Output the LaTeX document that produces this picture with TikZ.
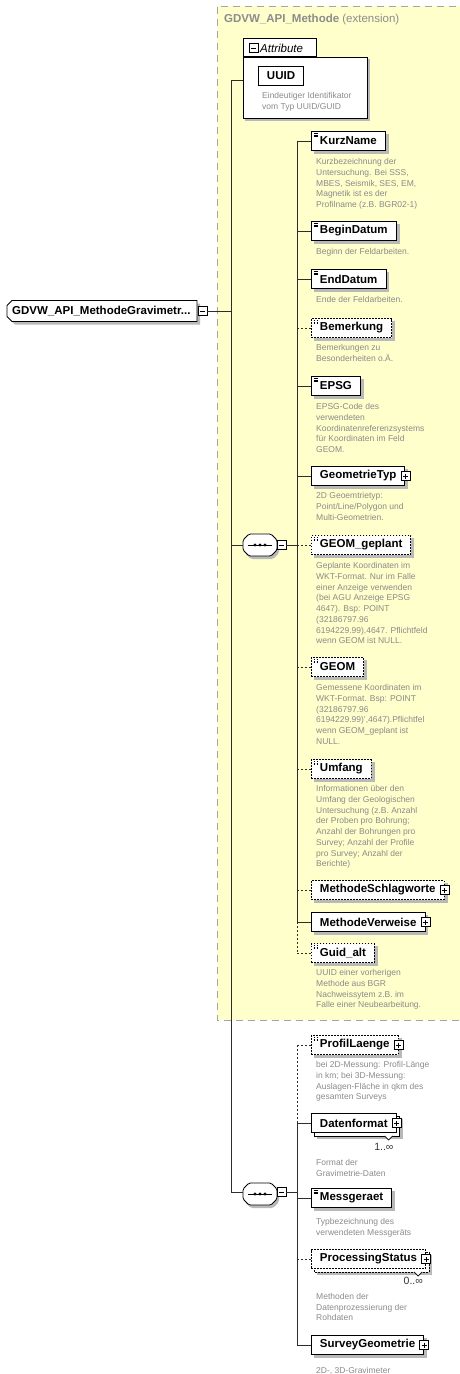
\documentclass[tikz,border=0pt]{standalone}
\usepackage{fontspec}
\setmainfont{Liberation Sans}
\definecolor{extyellow}{RGB}{255,255,204}
\definecolor{extborder}{RGB}{165,165,165}
\definecolor{descgray}{RGB}{138,138,138}
\definecolor{titlegray}{RGB}{140,140,140}
\definecolor{shadowgray}{RGB}{185,185,185}
\definecolor{linecol}{RGB}{45,45,45}
\pgfdeclarelayer{back}
\pgfdeclarelayer{bg}
\pgfsetlayers{back,bg,main}
\begin{document}
\begin{tikzpicture}[x=1pt,y=-1pt,
  el/.style={draw=black, fill=white, line width=0.9pt,
    font=\fontsize{11.5}{13}\selectfont\bfseries,
    minimum height=19pt, inner xsep=8.5pt, inner ysep=0pt, anchor=west},
  opt/.style={dash pattern=on 1.6pt off 1.4pt},
  simp/.style={path picture={
    \draw[line width=0.45pt] ([shift={(2.2,2)}]path picture bounding box.north west) -- ++(4,0)
      ([shift={(2.2,3.6)}]path picture bounding box.north west) -- ++(4,0)
      ([shift={(2.2,5.2)}]path picture bounding box.north west) -- ++(4,0);}},
  desc/.style={font=\fontsize{8.5}{10.7}\selectfont, text=descgray, align=left,
    anchor=north west, inner sep=0pt},
  sq/.style={draw=black, fill=white, line width=0.6pt, minimum size=9pt, inner sep=0pt},
  minusbox/.style={sq, path picture={
    \draw[line width=0.6pt] ([xshift=2pt]path picture bounding box.west) -- ([xshift=-2pt]path picture bounding box.east);}},
  plusbox/.style={sq, path picture={
    \draw[line width=0.6pt] ([xshift=2pt]path picture bounding box.west) -- ([xshift=-2pt]path picture bounding box.east)
      ([yshift=-2pt]path picture bounding box.north) -- ([yshift=2pt]path picture bounding box.south);}},
  seqnode/.style={minimum width=34pt, minimum height=22pt, inner sep=0pt},
  seqline/.style={draw=black, fill=white, line width=0.8pt, rounded corners=1.5pt},
  shadowfill/.style={fill=shadowgray, draw=none},
  conn/.style={draw=linecol, line width=1pt},
  dconn/.style={conn, dash pattern=on 2pt off 2pt},
  mult/.style={font=\fontsize{10.5}{12}\selectfont, text=black!80, anchor=east, inner sep=0pt},
]
\useasboundingbox (0,0) rectangle (460,1374);
\clip (0,0) rectangle (460,1374);

% extension area
\begin{pgfonlayer}{back}
\path[fill=extyellow] (217,6) rectangle (480,1020);
\draw[extborder, line width=1pt, dash pattern=on 7pt off 5pt] (480,6) -- (217,6) -- (217,1020) -- (480,1020);
\end{pgfonlayer}
\node[anchor=west, inner sep=0pt, text=titlegray, font=\fontsize{11.5}{13}\selectfont] (exttitle) at (224,20)
  {\textbf{GDVW\_API\_Methode} (extension)};

% attribute box
\node[draw=black, fill=white, line width=0.8pt, minimum width=124pt, minimum height=61pt, anchor=north west] (attrbox) at (243,57) {};
\node[draw=black, fill=white, line width=0.8pt, minimum width=73pt, minimum height=18pt, anchor=south west] (attrtab) at (243,57) {};
\node[minusbox] (attrm) at (253.5,48) {};
\node[anchor=west, inner sep=0pt, font=\fontsize{11.5}{13}\selectfont\itshape] (attrtxt) at (260,48) {Attribute};
\node[el] (uuid) at (258,76) {UUID};
\node[desc] (duuid) at (262,92.5) {Eindeutiger Identifikator\\vom Typ UUID/GUID};

% root
\path[shadowfill] (15,303.5) -- (200,303.5) -- (200,324.5) -- (15,324.5) -- (10,319.5) -- (10,308.5) -- cycle;
\path[draw=black, fill=white, line width=0.9pt] (12,300.5) -- (197,300.5) -- (197,321.5) -- (12,321.5) -- (7,316.5) -- (7,305.5) -- cycle;
\node[anchor=west, inner xsep=0pt, inner ysep=0pt, minimum height=21pt,
  font=\fontsize{11.5}{13}\selectfont\bfseries] (root) at (12,311) {GDVW\_API\_MethodeGravimetr...};
\node[minusbox] (rootm) at (202.5,311) {};

% spine
\coordinate (sp1) at (231,80);
\coordinate (sp2) at (231,311);
\coordinate (sp3) at (231,545);
\coordinate (sp4) at (231,1192);
\draw[conn] (attrbox.west |- sp1) -- (sp1) -- (sp4);
\draw[conn] (rootm.east) -- (sp2);

% sequence compositors
\foreach \s/\cy/\my in {seq1/545/545, seq2/1194/1192}{
  \path[shadowfill, rounded corners=1.5pt] (251,{\cy-8}) -- (273,{\cy-8}) -- (279,{\cy-2}) -- (279,{\cy+8}) -- (273,{\cy+14})
      -- (251,{\cy+14}) -- (245,{\cy+8}) -- (245,{\cy-2}) -- cycle;
  \path[seqline] (249,{\cy-11}) -- (271,{\cy-11}) -- (277,{\cy-5}) -- (277,{\cy+5}) -- (271,{\cy+11})
      -- (249,{\cy+11}) -- (243,{\cy+5}) -- (243,{\cy-5}) -- cycle;
  \node[seqnode] (\s) at (260,\cy) {};
  \draw[line width=0.8pt] ([xshift=-12pt]\s.center) -- ([xshift=12pt]\s.center);
  \foreach \dx in {-5,0,5} \fill ([xshift=\dx pt]\s.center) circle (1.6pt);
  \node[minusbox] (\s m) at (281.5,\my) {};
}
\draw[conn] (sp3) -- (seq1.west);
\draw[conn] (sp4) -- (seq2m.west -| seq2.west);

% ---- sequence 1 children
\coordinate (v1t) at (297,141);
\coordinate (v1m) at (297,922);
\coordinate (v1b) at (297,953);
\draw[conn] (seq1m.east) -- (seq1m.east -| v1t);
\draw[conn] (v1t) -- (v1m);
\draw[dconn] (v1m) -- (v1b);

\node[el,simp] (kurz) at (311,141) {KurzName};
\node[desc] (dkurz) at (316,158.5) {Kurzbezeichnung der\\Untersuchung. Bei SSS,\\MBES, Seismik, SES, EM,\\Magnetik ist es der\\Profilname (z.B. BGR02-1)};
\node[el,simp] (begin) at (311,231) {BeginDatum};
\node[desc] (dbegin) at (316,248.5) {Beginn der Feldarbeiten.};
\node[el,simp] (endd) at (311,279) {EndDatum};
\node[desc] (dendd) at (316,296.5) {Ende der Feldarbeiten.};
\node[el,opt,simp] (bem) at (311,328) {Bemerkung};
\node[desc] (dbem) at (316,344.5) {Bemerkungen zu\\Besonderheiten o.Ä.};
\node[el,simp] (epsg) at (311,386) {EPSG};
\node[desc] (depsg) at (316,403.5) {EPSG-Code des\\verwendeten\\Koordinatenreferenzsystems\\für Koordinaten im Feld\\GEOM.};
\node[el] (geotyp) at (311,476) {GeometrieTyp\hspace{4pt}};
\node[plusbox] (pgeotyp) at (geotyp.east) {};
\node[desc] (dgeotyp) at (316,492.5) {2D Geoemtrietyp:\\Point/Line/Polygon und\\Multi-Geometrien.};
\node[el,opt,simp] (geomgep) at (311,545) {GEOM\_geplant};
\node[desc] (dgeomgep) at (316,562.5) {Geplante Koordinaten im\\WKT-Format. Nur im Falle\\einer Anzeige verwenden\\(bei AGU Anzeige EPSG\\4647). Bsp: POINT\\(32186797.96\\6194229.99),4647. Pflichtfeld\\wenn GEOM ist NULL.};
\node[el,opt,simp] (geom) at (311,667) {GEOM};
\node[desc] (dgeom) at (316,684.5) {Gemessene Koordinaten im\\WKT-Format. Bsp: POINT\\(32186797.96\\6194229.99)',4647).Pflichtfel\\wenn GEOM\_geplant ist\\NULL.};
\node[el,opt,simp] (umfang) at (311,769) {Umfang};
\node[desc] (dumfang) at (316,785.5) {Informationen über den\\Umfang der Geologischen\\Untersuchung (z.B. Anzahl\\der Proben pro Bohrung;\\Anzahl der Bohrungen pro\\Survey; Anzahl der Profile\\pro Survey; Anzahl der\\Berichte)};
\node[el,opt] (schlag) at (311,890) {MethodeSchlagworte\hspace{4pt}};
\node[plusbox] (pschlag) at (schlag.east) {};
\node[el] (verw) at (311,922) {MethodeVerweise\hspace{4pt}};
\node[plusbox] (pverw) at (verw.east) {};
\node[el,opt,simp] (guid) at (311,953) {Guid\_alt};
\node[desc] (dguid) at (316,969.5) {UUID einer vorherigen\\Methode aus BGR\\Nachweissytem z.B. im\\Falle einer Neubearbeitung.};

\foreach \n in {kurz,begin,endd,epsg,geotyp,verw}
  \draw[conn] (\n.west -| v1t) -- (\n.west);
\foreach \n in {bem,geomgep,geom,umfang,schlag,guid}
  \draw[dconn] (\n.west -| v1t) -- (\n.west);

% ---- sequence 2 children
\coordinate (v2t) at (297,1045);
\coordinate (v2m) at (297,1123);
\coordinate (v2b) at (297,1345);
\draw[conn] (seq2m.east) -- (seq2m.east -| v2t);
\draw[dconn] (v2t) -- (v2m);
\draw[conn] (v2m) -- (v2b);

\node[el,opt,simp] (profil) at (311,1045) {ProfilLaenge\hspace{4pt}};
\node[plusbox] (pprofil) at (profil.east) {};
\node[desc] (dprofil) at (316,1061.5) {bei 2D-Messung: Profil-Länge\\in km; bei 3D-Messung:\\Auslagen-Fläche in qkm des\\gesamten Surveys};
\node[el] (datenf) at (311,1123) {Datenformat\hspace{4pt}};
\node[plusbox] (pdatenf) at (datenf.east) {};
\node[mult] (mdatenf) at ([shift={(-3,14)}]datenf.south east) {1..∞};
\node[desc] (ddatenf) at (316,1159.5) {Format der\\Gravimetrie-Daten};
\node[el,simp] (mess) at (311,1198) {Messgeraet};
\node[desc] (dmess) at (316,1218) {Typbezeichnung des\\verwendeten Messgeräts};
\node[el,opt] (proc) at (311,1259) {ProcessingStatus\hspace{4pt}};
\node[plusbox] (pproc) at (proc.east) {};
\node[mult] (mproc) at ([shift={(-3,12)}]proc.south east) {0..∞};
\node[desc] (dproc) at (316,1293) {Methoden der\\Datenprozessierung der\\Rohdaten};
\node[el] (survey) at (311,1345) {SurveyGeometrie\hspace{4pt}};
\node[plusbox] (psurvey) at (survey.east) {};
\node[desc] (dsurvey) at (316,1367) {2D-, 3D-Gravimeter};

\foreach \n in {datenf,mess,survey}
  \draw[conn] (\n.west -| v2t) -- (\n.west);
\foreach \n in {profil,proc}
  \draw[dconn] (\n.west -| v2t) -- (\n.west);

% shadows and stacked copies behind the boxes
\begin{pgfonlayer}{bg}
\fill[shadowgray] ([shift={(2,2)}]attrbox.north west) rectangle ([shift={(2,2)}]attrbox.south east);
\foreach \n in {uuid,kurz,begin,endd,bem,epsg,geotyp,geomgep,geom,umfang,schlag,verw,guid,profil,mess,survey}
  \fill[shadowgray] ([shift={(3,3)}]\n.north west) rectangle ([shift={(3,3)}]\n.south east);
\foreach \n/\st in {datenf/solid, proc/opt}{
  \fill[shadowgray] ([shift={(6,6)}]\n.north west) rectangle ([shift={(6,6)}]\n.south east);
  \draw[fill=white, line width=0.9pt, \st] ([shift={(3,3)}]\n.north west) rectangle ([shift={(3,3)}]\n.south east);
  \draw[fill=white, line width=0.7pt] ([shift={(-12,3)}]\n.south east) -- ([shift={(-8,7)}]\n.south east) -- ([shift={(-4,3)}]\n.south east);
}
\end{pgfonlayer}
\end{tikzpicture}
\end{document}
